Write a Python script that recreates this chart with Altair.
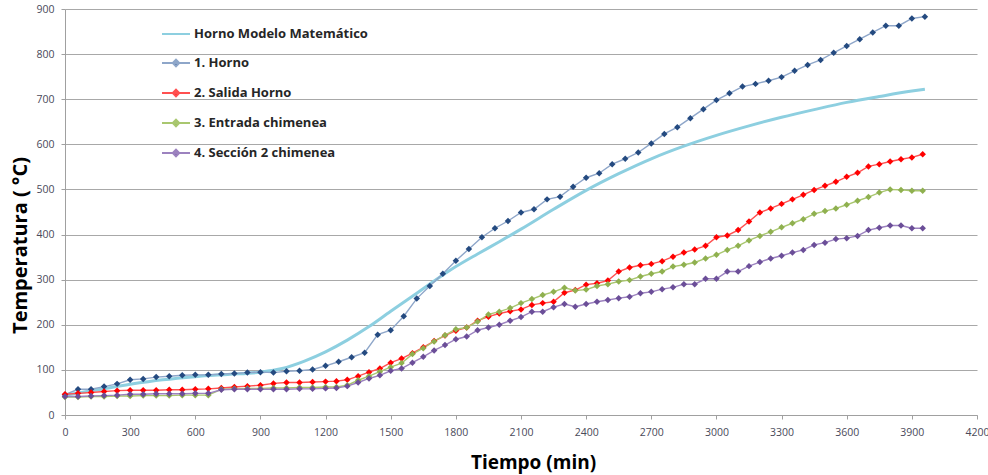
import altair as alt
import pandas as pd

S_MODEL = "Horno Modelo Matemático"
S1 = "1. Horno"
S2 = "2. Salida Horno"
S3 = "3. Entrada chimenea"
S4 = "4. Sección 2 chimenea"
series_names = [S_MODEL, S1, S2, S3, S4]

line_colors = ["#8dcfe0", "#8ea6c9", "#ff5050", "#a9c76f", "#9c82bf"]
marker_colors = ["transparent", "#244a80", "#ff0000", "#8fb04f", "#6b4e98"]

# Mathematical model (smooth curve)
model_t = [0, 150, 300, 450, 600, 750, 900, 1000, 1100, 1200, 1300, 1400, 1500, 1600,
           1700, 1800, 1900, 2000, 2100, 2250, 2400, 2550, 2700, 2850, 3000, 3150,
           3300, 3450, 3600, 3750, 3900, 3960]
model_v = [44, 56, 68, 78, 85, 90, 95, 103, 119, 140, 166, 196, 230, 263,
           297, 329, 357, 384, 412, 456, 498, 535, 568, 596, 620, 641,
           660, 677, 693, 706, 718, 722]

# 1. Horno (every 60 min)
horno_t = [0, 60, 120, 180, 240, 300, 360, 420, 480, 540, 600, 660, 720, 780, 840, 900,
           960, 1020, 1080, 1140, 1200, 1260, 1320, 1380, 1440, 1500, 1560, 1620, 1680,
           1740, 1800, 1860, 1920, 1980, 2040, 2100, 2160, 2220, 2280, 2340, 2400, 2460,
           2520, 2580, 2640, 2700, 2760, 2820, 2880, 2940, 3000, 3060, 3120, 3180, 3240,
           3300, 3360, 3420, 3480, 3540, 3600, 3660, 3720, 3780, 3840, 3900, 3960]
horno_v = [45, 57, 57, 63, 69, 78, 80, 84, 86, 88, 89, 89, 91, 92, 94, 95,
           94, 97, 98, 101, 109, 118, 128, 138, 178, 188, 219, 258, 286,
           313, 342, 368, 394, 414, 430, 449, 456, 478, 484, 506, 526, 536,
           556, 568, 582, 602, 623, 638, 658, 678, 698, 713, 728, 734, 741,
           749, 763, 776, 787, 803, 818, 833, 848, 863, 863, 879, 883]

# Sampling times for the other three measurement points
meas_t = [0, 60, 120, 180, 240, 300, 360, 420, 480, 540, 600, 660, 720, 780, 840, 900,
          960, 1020, 1080, 1140, 1200, 1250, 1300, 1350, 1400, 1450, 1500, 1550, 1600,
          1650, 1700, 1750, 1800, 1850, 1900, 1950, 2000, 2050, 2100, 2150, 2200, 2250,
          2300, 2350, 2400, 2450, 2500, 2550, 2600, 2650, 2700, 2750, 2800, 2850, 2900,
          2950, 3000, 3050, 3100, 3150, 3200, 3250, 3300, 3350, 3400, 3450, 3500, 3550,
          3600, 3650, 3700, 3750, 3800, 3850, 3900, 3950]

salida_v = [46, 48, 50, 52, 54, 55, 55, 55, 56, 56, 57, 58, 60, 62, 64, 66,
            70, 72, 72, 73, 74, 75, 78, 86, 95, 103, 116, 125, 137,
            150, 164, 176, 187, 194, 209, 218, 225, 230, 234, 244, 248, 251,
            271, 277, 289, 292, 298, 318, 327, 332, 335, 341, 351, 360, 367,
            375, 394, 398, 410, 429, 449, 458, 468, 478, 488, 499, 508, 517,
            528, 537, 551, 556, 562, 567, 571, 578]

entrada_v = [40, 40, 41, 41, 42, 42, 43, 43, 43, 44, 44, 44, 57, 58, 59, 59,
             60, 60, 61, 61, 62, 62, 66, 77, 86, 96, 106, 115, 135,
             148, 163, 177, 190, 194, 207, 223, 229, 237, 248, 257, 266, 273,
             282, 276, 278, 286, 290, 296, 299, 307, 313, 318, 329, 333, 338,
             347, 355, 366, 375, 387, 397, 406, 416, 425, 434, 446, 452, 458,
             466, 475, 483, 493, 500, 499, 497, 497]

seccion_v = [41, 41, 42, 43, 44, 46, 46, 47, 47, 47, 48, 48, 56, 57, 57, 57,
             57, 57, 58, 58, 59, 60, 64, 72, 81, 88, 98, 103, 116,
             129, 143, 155, 168, 174, 188, 194, 200, 209, 217, 229, 229, 239,
             246, 240, 246, 251, 255, 259, 262, 270, 273, 279, 283, 290, 290,
             302, 302, 318, 318, 330, 339, 347, 353, 360, 366, 377, 382, 390,
             392, 397, 410, 415, 420, 420, 414, 414]

x_ticks = [0, 300, 600, 900, 1200, 1500, 1800, 2100, 2400, 2700, 3000, 3300, 3600, 3900, 4200]
y_ticks = [0, 100, 200, 300, 400, 500, 600, 700, 800, 900]

rows = []
for t, v in zip(model_t, model_v):
    rows.append({"serie": S_MODEL, "t": t, "v": v})
for name, ts, vs in [(S1, horno_t, horno_v), (S2, meas_t, salida_v),
                     (S3, meas_t, entrada_v), (S4, meas_t, seccion_v)]:
    for t, v in zip(ts, vs):
        rows.append({"serie": name, "t": t, "v": v})
df = pd.DataFrame(rows)

FONT = "Open Sans"

x_enc = alt.X("t:Q", scale=alt.Scale(domain=[0, 4200], nice=False),
              axis=alt.Axis(values=x_ticks, format="d", grid=False, title="Tiempo  (min)",
                            titleFontSize=19, titleFontWeight="bold", titleFont=FONT,
                            titleColor="#000000", titleX=468, titleY=47,
                            titleBaseline="middle", titleAlign="center",
                            labelFont=FONT, labelFontSize=10.5, labelColor="#4a4a5a",
                            labelPadding=8, tickSize=4, tickColor="#a0a0a0",
                            domainColor="#a0a0a0", labelFlush=False))
y_enc = alt.Y("v:Q", scale=alt.Scale(domain=[0, 900], nice=False),
              axis=alt.Axis(values=y_ticks, format="d", grid=True, gridColor="#a8a8a8",
                            gridWidth=1.2, title="Temperatura ( °C)", titleFontSize=20,
                            titleFontWeight="bold", titleFont=FONT, titleColor="#000000",
                            titleX=-45, titleY=236, titleBaseline="middle",
                            titleAlign="center", titleAngle=270,
                            labelFont=FONT, labelFontSize=10.5, labelColor="#4a4a5a",
                            labelPadding=7, tickSize=4, tickColor="#a0a0a0",
                            domainColor="#a0a0a0"))

marker_shape = "M-1,0H1M0,-0.23L0.23,0L0,0.23L-0.23,0Z"
legend_shapes = ["M-1,0H1", marker_shape, marker_shape, marker_shape, marker_shape]

legend = alt.Legend(
    title=None, orient="none", legendX=96, legendY=10,
    symbolSize=784, symbolStrokeWidth=2, symbolOpacity=1,
    labelFont=FONT, labelFontWeight="bold", labelFontSize=13, labelColor="#262626",
    labelOffset=3, labelLimit=400, rowPadding=7, padding=0,
)

base = alt.Chart(df)
layers = []

# model line
layers.append(base.transform_filter(alt.datum.serie == S_MODEL).mark_line(
    strokeWidth=3, interpolate="monotone", color=line_colors[0]).encode(x=x_enc, y=y_enc))

# measured series: line + diamond markers
for i, name in enumerate(series_names[1:], start=1):
    sub = base.transform_filter(alt.datum.serie == name)
    layers.append(sub.mark_line(strokeWidth=1.4, color=line_colors[i]).encode(x=x_enc, y=y_enc))
for i, name in enumerate(series_names[1:], start=1):
    sub = base.transform_filter(alt.datum.serie == name)
    layers.append(sub.mark_point(shape="diamond", filled=True, size=42, opacity=1,
                                 color=marker_colors[i]).encode(x=x_enc, y=y_enc))

# legend source (invisible marks)
layers.append(base.mark_point(filled=True, opacity=0).encode(
    x=x_enc, y=y_enc,
    fill=alt.Fill("serie:N", scale=alt.Scale(domain=series_names, range=marker_colors),
                  legend=legend),
    stroke=alt.Stroke("serie:N", scale=alt.Scale(domain=series_names, range=line_colors),
                      legend=legend),
    shape=alt.Shape("serie:N", scale=alt.Scale(domain=series_names, range=legend_shapes),
                    legend=legend),
))

chart = alt.layer(*layers).properties(
    width=912, height=406,
    autosize=alt.AutoSizeParams(type="none"),
    padding={"left": 65, "top": 9, "right": 11, "bottom": 60},
    background="white",
).configure_view(stroke=None)

chart.save("out.html", embed_options={"renderer": "svg", "actions": False})
